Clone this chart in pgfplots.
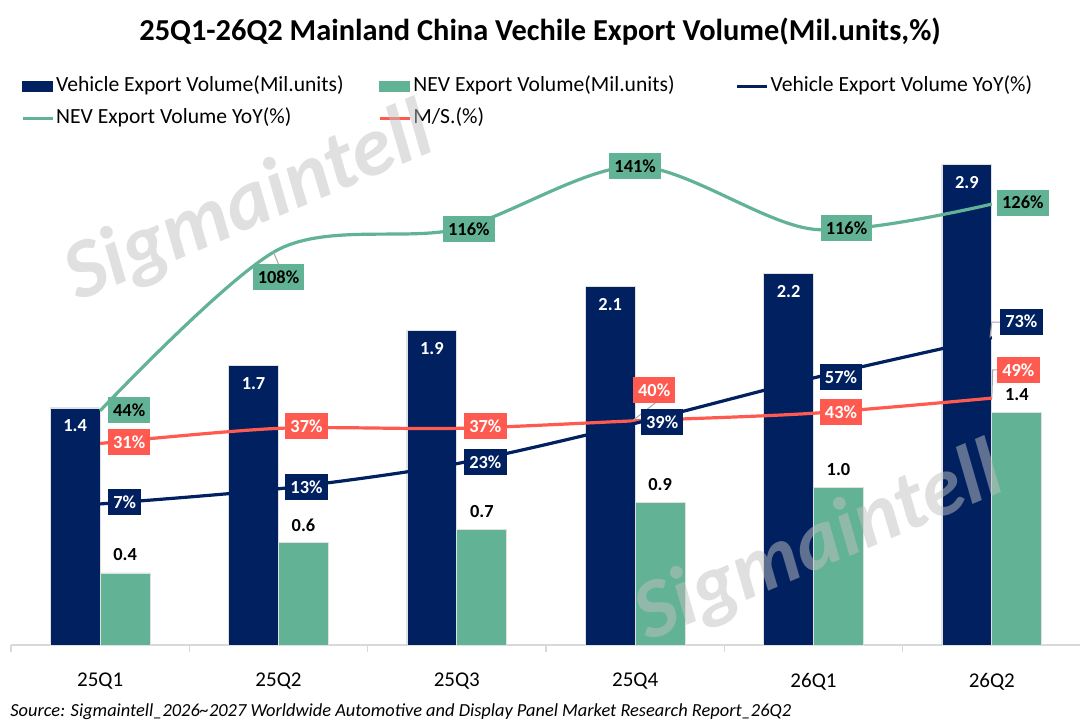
\documentclass[border=0pt]{standalone}
\usepackage{fontspec}
\setmainfont{Carlito}
\usepackage{pgfplots}
\usepackage{pgfplotstable}
\pgfplotsset{compat=1.18}
\definecolor{navy}{RGB}{0,32,96}
\definecolor{nevgreen}{RGB}{98,178,150}
\definecolor{msred}{RGB}{255,90,80}
\definecolor{axgray}{RGB}{217,217,217}
\definecolor{leadgray}{RGB}{166,166,166}
\definecolor{wmgray}{RGB}{193,193,193}

\pgfplotstableread{
x veh vehlab nev nevlab
0 1.415 1.4 0.43 0.4
1 1.67 1.7 0.61 0.6
2 1.88 1.9 0.69 0.7
3 2.14 2.1 0.85 0.9
4 2.22 2.2 0.94 1.0
5 2.87 2.9 1.39 1.4
}\bardata

\pgfplotstableread{
x y lab dx dy
0 44 44 14.5 0.3
1 108 108 0 -14
2 116 116 6 0.25
3 141 141 0 0
4 116 116 16.5 0.75
5 126 126 15.5 0.75
}\nevyoy

\pgfplotstableread{
x y lab dx dy
0 7 7 12.25 1
1 13 13 14 0.75
2 23 23 14.25 0.75
3 39 39 13.5 0.5
4 57 57 13.75 0.5
5 73 73 14.75 8
}\vehyoy

\pgfplotstableread{
x y lab dx dy
0 31 31 14.5 0.75
1 37 37 14 1
2 37 37 14.25 1
3 40 40 9.5 15.4
4 43 43 13.75 0.5
5 49 49 13.25 14
}\msdata

\tikzset{lbl/.style={font=\bfseries\fontsize{9.2}{10}\selectfont, inner xsep=2.6pt, inner ysep=0pt, minimum height=13pt, anchor=center}}
\pgfplotsset{base/.style={scale only axis, width=535pt, height=252.5pt, xmin=-0.5, xmax=5.5, clip=false}}

\begin{document}
\begin{tikzpicture}
\path[use as bounding box] (-5.5pt,-40.5pt) rectangle (534.5pt,322.5pt);
\node[font=\bfseries\fontsize{15.2}{17}\selectfont] at (264.5pt,306.5pt) {25Q1-26Q2 Mainland China Vechile Export Volume(Mil.units,\%)};
\node[anchor=west, inner sep=0pt, font=\itshape\fontsize{9.2}{11}\selectfont] at (-0.5pt,-33.5pt) {Source: Sigmaintell\_2026\textasciitilde2027 Worldwide Automotive and Display Panel Market Research Report\_26Q2};

\begin{axis}[base, ymin=0, ymax=3.015, ybar=0pt, bar width=0.28,
  axis x line*=bottom, axis y line=none,
  axis line style={axgray, line width=0.75pt},
  xtick={0,1,2,3,4,5}, xticklabels={25Q1,25Q2,25Q3,25Q4,26Q1,26Q2},
  major tick length=0pt,
  extra x ticks={-0.5,0.5,1.5,2.5,3.5,4.5,5.5}, extra x tick labels={},
  extra x tick style={major tick length=3.5pt, tick align=outside, tick style={axgray, line width=0.75pt}},
  xticklabel style={font=\fontsize{10.5}{12}\selectfont, yshift=-10.5pt},
  legend columns=3,
  legend style={at={(axis description cs:0.00935,1.1257)}, anchor=north west, draw=none, fill=none,
    inner sep=0pt, outer sep=0pt, row sep=6pt, column sep=0pt,
    font=\fontsize{10.8}{12}\selectfont,
    nodes={inner sep=0pt, text height=7.5pt, text depth=2.5pt, anchor=west}},
  legend cell align=left]
\addlegendimage{legend image code/.code={\fill[navy] (0pt,-2.5pt) rectangle (15pt,2.5pt);}}
\addlegendentry{\makebox[162pt][l]{\hspace{1pt}Vehicle Export Volume(Mil.units)}}
\addlegendimage{legend image code/.code={\fill[nevgreen] (0pt,-2.5pt) rectangle (15pt,2.5pt);}}
\addlegendentry{\makebox[162pt][l]{\hspace{1pt}NEV Export Volume(Mil.units)}}
\addlegendimage{legend image code/.code={\draw[navy, line width=1.6pt] (0pt,0pt) -- (15pt,0pt);}}
\addlegendentry{\hspace{1pt}Vehicle Export Volume YoY(\%)}
\addlegendimage{legend image code/.code={\draw[nevgreen, line width=1.6pt] (0pt,0pt) -- (15pt,0pt);}}
\addlegendentry{\makebox[162pt][l]{\hspace{1pt}NEV Export Volume YoY(\%)}}
\addlegendimage{legend image code/.code={\draw[msred, line width=1.6pt] (0pt,0pt) -- (15pt,0pt);}}
\addlegendentry{\hspace{1pt}M/S.(\%)}

\addplot[fill=navy, draw=white!88!black, line width=0.4pt, forget plot, bar shift=-0.14,
  nodes near coords, point meta=explicit symbolic,
  nodes near coords style={anchor=center, yshift=-9pt, text=white, font=\bfseries\fontsize{9.2}{10}\selectfont}]
  table[x=x, y=veh, meta=vehlab] {\bardata};
\addplot[fill=nevgreen, draw=white!88!black, line width=0.4pt, forget plot, bar shift=0.14,
  nodes near coords, point meta=explicit symbolic,
  nodes near coords style={anchor=center, yshift=9pt, text=black, font=\bfseries\fontsize{9.2}{10}\selectfont}]
  table[x=x, y=nev, meta=nevlab] {\bardata};
\end{axis}

\begin{axis}[base, ymin=-48.97, ymax=151.43, axis lines=none]
\addplot[nevgreen, line width=1.6pt, smooth] table[x=x, y=y] {\nevyoy};
\addplot[msred, line width=1.6pt, smooth] table[x=x, y=y] {\msdata};
\addplot[navy, line width=1.6pt, smooth] table[x=x, y=y] {\vehyoy};
\draw[leadgray, line width=0.5pt] (axis cs:0.969,107.4) -- (axis cs:1,102.2);
\draw[leadgray, line width=0.5pt] (axis cs:4.99,73) -- (axis cs:5.0,79.2) -- (axis cs:5.05,79.2);
\draw[leadgray, line width=0.5pt] (axis cs:5,49) -- (axis cs:5.005,60.2) -- (axis cs:5.03,60.2);
\draw[leadgray, line width=0.5pt] (axis cs:2.99,40.3) -- (axis cs:3.113,47.1);
\addplot[draw=none, nodes near coords={\pgfplotspointmeta\%}, point meta=explicit symbolic,
  visualization depends on={\thisrow{dx}\as\dx},
  visualization depends on={\thisrow{dy}\as\dy},
  nodes near coords style={lbl, fill=nevgreen, text=black, xshift=\dx pt, yshift=\dy pt}]
  table[x=x, y=y, meta=lab] {\nevyoy};
\addplot[draw=none, nodes near coords={\pgfplotspointmeta\%}, point meta=explicit symbolic,
  visualization depends on={\thisrow{dx}\as\dx},
  visualization depends on={\thisrow{dy}\as\dy},
  nodes near coords style={lbl, fill=msred, text=white, xshift=\dx pt, yshift=\dy pt}]
  table[x=x, y=y, meta=lab] {\msdata};
\addplot[draw=none, nodes near coords={\pgfplotspointmeta\%}, point meta=explicit symbolic,
  visualization depends on={\thisrow{dx}\as\dx},
  visualization depends on={\thisrow{dy}\as\dy},
  nodes near coords style={lbl, fill=navy, text=white, xshift=\dx pt, yshift=\dy pt}]
  table[x=x, y=y, meta=lab] {\vehyoy};
\end{axis}
\node[rotate=23, text=wmgray, text opacity=0.5, font=\bfseries\itshape\fontsize{42}{46}\selectfont] at (119.5pt,220pt) {Sigmaintell};
\node[rotate=23, text=wmgray, text opacity=0.5, font=\bfseries\itshape\fontsize{42}{46}\selectfont] at (404.5pt,50pt) {Sigmaintell};
\end{tikzpicture}
\end{document}
